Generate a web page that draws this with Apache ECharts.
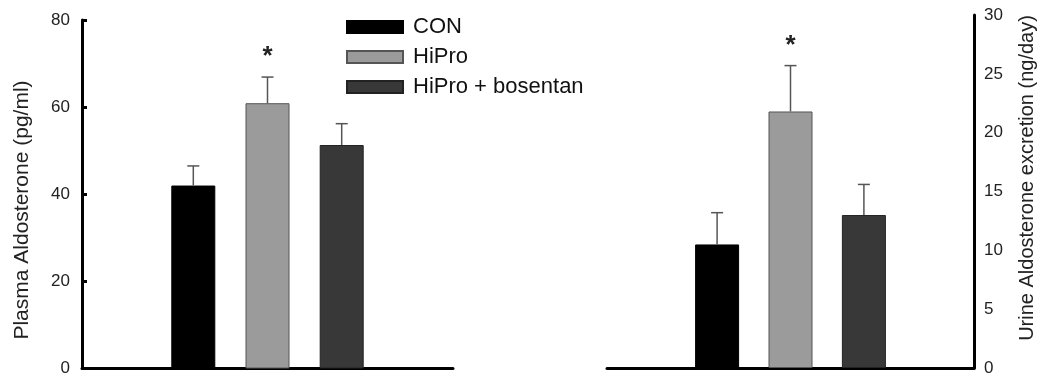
<!DOCTYPE html>
<html>
<head>
<meta charset="utf-8">
<script src="https://cdn.jsdelivr.net/npm/echarts@6/dist/echarts.min.js"></script>
<style>html,body{margin:0;padding:0;background:#fff}#c{width:1042px;height:377px}</style>
</head>
<body>
<div id="c"></div>
<script>
// ---- data ----
const slots = [' ', 'CON', 'HiPro', 'HiPro + bosentan', '  '];
const groups = ['CON', 'HiPro', 'HiPro + bosentan'];
const plasmaMean = [42.0, 60.9, 51.3];
const plasmaErr = [4.5, 6.0, 4.9];
const urineMean = [10.5, 21.8, 13.0];
const urineErr = [2.7, 3.9, 2.6];
const plasmaSig = ['', '*', ''];
const urineSig = ['', '*', ''];
const plasmaTicks = [0, 20, 40, 60, 80];
const urineTicks = [0, 5, 10, 15, 20, 25, 30];
const leftTitle = 'Plasma Aldosterone (pg/ml)';
const rightTitle = 'Urine Aldosterone excretion (ng/day)';

const FONT = '"Liberation Sans", Arial, sans-serif';
const fills = ['#000000', '#9b9b9b', '#383838'];
const borders = ['#000000', '#555555', '#222222'];

function slotData(vals, g) {
  return slots.map((s, i) => (i === g + 1 ? vals[g] : null));
}

function barSeries(vals, gi) {
  return groups.map((name, g) => ({
    type: 'bar', name: name, xAxisIndex: gi, yAxisIndex: gi,
    data: slotData(vals, g), barWidth: 44, barGap: '-100%',
    itemStyle: { color: fills[g], borderColor: borders[g], borderWidth: 1 },
    emphasis: { disabled: true }, z: 2
  }));
}

function errSeries(mean, err, sig, gi) {
  return {
    type: 'custom', xAxisIndex: gi, yAxisIndex: gi, z: 3, silent: true,
    data: mean.map((m, g) => [g + 1, m, err[g], sig[g]]),
    renderItem: function (params, api) {
      const base = api.coord([api.value(0), api.value(1)]);
      const top = api.coord([api.value(0), api.value(1) + api.value(2)]);
      const st = { stroke: '#555', lineWidth: 1.5 };
      const children = [
        { type: 'line', shape: { x1: base[0], y1: base[1], x2: base[0], y2: top[1] }, style: st },
        { type: 'line', shape: { x1: base[0] - 6, y1: top[1], x2: base[0] + 6, y2: top[1] }, style: st }
      ];
      const s = sig[params.dataIndex];
      if (s) {
        children.push({ type: 'text', x: base[0], y: top[1] - 20,
          style: { text: s, font: 'bold 26px ' + FONT, fill: '#222', align: 'center', verticalAlign: 'middle' } });
      }
      return { type: 'group', children: children };
    }
  };
}

const axisLine = { show: true, lineStyle: { color: '#000', width: 3 } };
const labelStyle = { color: '#222', fontSize: 17, fontFamily: FONT };

const option = {
  animation: false,
  backgroundColor: '#fff',
  legend: {
    data: groups, orient: 'vertical', left: 341, top: 11,
    itemWidth: 56, itemHeight: 12, itemGap: 8, icon: 'rect',
    textStyle: { fontSize: 22, fontFamily: FONT, color: '#111', padding: [0, 0, 0, 5], lineHeight: 22 },
    selectedMode: false
  },
  grid: [
    { left: 82, top: 20, width: 371, height: 349 },
    { left: 607, top: 15, width: 367, height: 353 }
  ],
  xAxis: [
    { type: 'category', gridIndex: 0, data: slots, axisLine: axisLine, axisTick: { show: false }, axisLabel: { show: false } },
    { type: 'category', gridIndex: 1, data: slots, axisLine: axisLine, axisTick: { show: false }, axisLabel: { show: false } }
  ],
  yAxis: [
    { type: 'value', gridIndex: 0, min: plasmaTicks[0], max: plasmaTicks[plasmaTicks.length - 1], interval: plasmaTicks[1] - plasmaTicks[0],
      axisLine: axisLine, axisTick: { show: true, inside: true, length: 5, lineStyle: { color: '#000', width: 3 } },
      axisLabel: Object.assign({ margin: 12 }, labelStyle), splitLine: { show: false } },
    { type: 'value', gridIndex: 1, position: 'right', min: urineTicks[0], max: urineTicks[urineTicks.length - 1], interval: urineTicks[1] - urineTicks[0],
      axisLine: axisLine, axisTick: { show: false },
      axisLabel: Object.assign({ margin: 10 }, labelStyle), splitLine: { show: false } }
  ],
  graphic: [
    { type: 'text', x: 22, y: 210, rotation: Math.PI / 2,
      style: { text: leftTitle, font: '21px ' + FONT, fill: '#222', align: 'center', verticalAlign: 'middle' } },
    { type: 'text', x: 1027, y: 178, rotation: Math.PI / 2,
      style: { text: rightTitle, font: '20px ' + FONT, fill: '#222', align: 'center', verticalAlign: 'middle' } }
  ],
  series: [].concat(
    barSeries(plasmaMean, 0),
    barSeries(urineMean, 1),
    [errSeries(plasmaMean, plasmaErr, plasmaSig, 0), errSeries(urineMean, urineErr, urineSig, 1)]
  )
};

echarts.init(document.getElementById('c')).setOption(option);
</script>
</body>
</html>
